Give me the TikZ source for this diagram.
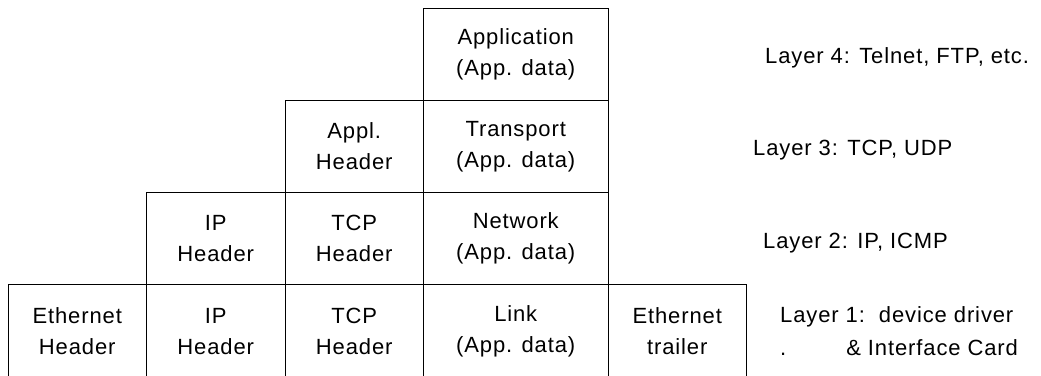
\documentclass[tikz,border=0pt]{standalone}
\usepackage{fontspec}
\setmainfont{Liberation Sans}[LetterSpace=4]
\usetikzlibrary{positioning}

\begin{document}
\begin{tikzpicture}[
    x=1pt, y=-1pt, node distance=0pt,
    cell/.style={draw, line width=0.9pt, align=center, minimum width=138.5pt, minimum height=92.3pt,
                 inner sep=0pt, outer sep=0pt, font=\fontsize{22}{31}\selectfont},
    widecell/.style={cell, minimum width=184.5pt},
    layer/.style={align=left, inner sep=0pt, font=\fontsize{22}{33}\selectfont}
  ]
  \useasboundingbox (0,0) rectangle (1041,375);
  % bottom row: the whole frame on the wire
  \node[cell, anchor=north west] (eth_hdr) at (8,284.9) {Ethernet\\Header};
  \node[cell, right=of eth_hdr] (ip_hdr1) {IP\\Header};
  \node[cell, right=of ip_hdr1] (tcp_hdr1) {TCP\\Header};
  \node[widecell, right=of tcp_hdr1] (link) {Link\\(App. data)};
  \node[cell, right=of link] (eth_trl) {Ethernet\\trailer};

  % upper rows
  \node[cell, above=of ip_hdr1] (ip_hdr2) {IP\\Header};
  \node[cell, above=of tcp_hdr1] (tcp_hdr2) {TCP\\Header};
  \node[widecell, above=of link] (network) {Network\\(App. data)};
  \node[cell, above=of tcp_hdr2] (appl_hdr) {Appl.\\Header};
  \node[widecell, above=of network] (transport) {Transport\\(App. data)};
  \node[widecell, above=of transport] (application) {Application\\(App. data)};

  % layer names
  \node[layer, anchor=base west] (layer4) at (765,63) {Layer 4: Telnet, FTP, etc.};
  \node[layer, anchor=base west] (layer3) at (753,155) {Layer 3: TCP, UDP};
  \node[layer, anchor=base west] (layer2) at (763,248) {Layer 2: IP, ICMP};
  \node[layer, anchor=west] (layer1) at (780,331) {Layer 1:\ \ device driver\\.\hspace{60pt}\& Interface Card};
\end{tikzpicture}
\end{document}
